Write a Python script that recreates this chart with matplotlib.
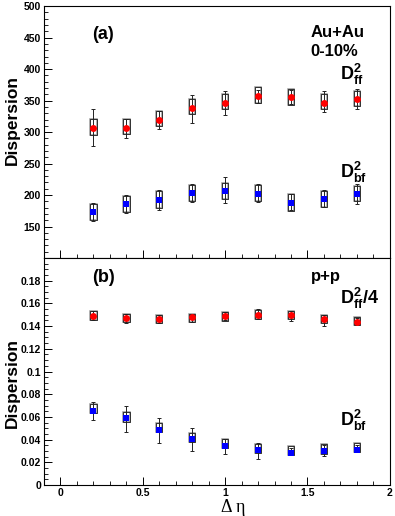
import matplotlib.pyplot as plt
from matplotlib.patches import Rectangle
from matplotlib.ticker import MultipleLocator

plt.rcParams['font.family'] = ['Liberation Sans', 'DejaVu Sans']
plt.rcParams['mathtext.fontset'] = 'custom'
plt.rcParams['mathtext.bf'] = 'Liberation Sans:bold'
plt.rcParams['mathtext.rm'] = 'Liberation Sans'

deta = [0.2, 0.4, 0.6, 0.8, 1.0, 1.2, 1.4, 1.6, 1.8]

# (a) Au+Au 0-10%
auau_ff = [307, 307, 320, 339, 346, 358, 355, 347, 352]
auau_ff_lo = [278, 290, 305, 315, 327, 346, 345, 332, 336]
auau_ff_hi = [337, 321, 334, 359, 365, 367, 367, 366, 368]
auau_ff_box_lo = [296, 297, 309, 329, 336, 346, 343, 336, 342]
auau_ff_box_hi = [321, 321, 333, 353, 360, 372, 369, 361, 366]

auau_bf = [173, 185, 192, 203, 206, 202, 188, 194, 201]
auau_bf_lo = [159, 171, 177, 189, 188, 189, 176, 181, 186]
auau_bf_hi = [188, 200, 208, 217, 228, 218, 202, 208, 218]
auau_bf_box_lo = [161, 173, 179, 190, 194, 190, 174, 181, 191]
auau_bf_box_hi = [186, 199, 206, 216, 219, 216, 201, 207, 215]

# (b) p+p
pp_ff = [0.1486, 0.1474, 0.1459, 0.1477, 0.1486, 0.1500, 0.1500, 0.1465, 0.1436]
pp_ff_lo = [0.1455, 0.1430, 0.1430, 0.1440, 0.1450, 0.1460, 0.1442, 0.1398, 0.1410]
pp_ff_hi = [0.1530, 0.1510, 0.1500, 0.1510, 0.1520, 0.1553, 0.1535, 0.1500, 0.1470]
pp_ff_box_lo = [0.1451, 0.1433, 0.1427, 0.1436, 0.1448, 0.1465, 0.1462, 0.1430, 0.1407]
pp_ff_box_hi = [0.1529, 0.1509, 0.1500, 0.1510, 0.1520, 0.1538, 0.1535, 0.1500, 0.1477]

pp_bf = [0.0655, 0.0588, 0.0483, 0.0402, 0.0347, 0.0306, 0.0286, 0.0300, 0.0312]
pp_bf_lo = [0.0577, 0.0466, 0.0373, 0.0300, 0.0277, 0.0227, 0.0270, 0.0253, 0.0295]
pp_bf_hi = [0.0728, 0.0693, 0.0588, 0.0500, 0.0408, 0.0370, 0.0330, 0.0350, 0.0350]
pp_bf_box_lo = [0.0632, 0.0553, 0.0466, 0.0378, 0.0330, 0.0282, 0.0268, 0.0277, 0.0291]
pp_bf_box_hi = [0.0714, 0.0640, 0.0548, 0.0460, 0.0402, 0.0358, 0.0343, 0.0358, 0.0370]


def draw_series(ax, y, lo, hi, blo, bhi, color, marker, ms):
    half = 0.02
    for xi, b0, b1 in zip(deta, blo, bhi):
        # gray shadow + thin black outline, like the ROOT sys boxes
        ax.add_patch(Rectangle((xi - half, b0), 2 * half, b1 - b0, fill=False,
                               edgecolor='#9a9a9a', lw=1.1, zorder=2))
        ax.add_patch(Rectangle((xi - half, b0), 2 * half, b1 - b0, fill=False,
                               edgecolor='black', lw=0.5, zorder=2))
    yerr = [[v - l for v, l in zip(y, lo)], [h - v for v, h in zip(y, hi)]]
    ax.errorbar(deta, y, yerr=yerr, fmt='none', ecolor='#222222', elinewidth=0.7,
                capsize=1.5, capthick=0.7, zorder=3)
    ax.plot(deta, y, linestyle='none', marker=marker, color=color, ms=ms,
            markeredgewidth=0, zorder=4)


def style_axes(ax):
    ax.tick_params(which='both', direction='in', top=False, right=False,
                   labelsize=7.5, pad=2)
    ax.tick_params(which='major', length=6, width=0.7)
    ax.tick_params(which='minor', length=3, width=0.6)
    for lab in ax.get_yticklabels() + ax.get_xticklabels():
        lab.set_fontweight('bold')
    ax.set_ylabel('Dispersion', fontsize=12.5, fontweight='bold')
    ax.xaxis.set_major_locator(MultipleLocator(0.5))
    ax.xaxis.set_minor_locator(MultipleLocator(0.1))
    ax.set_xlim(-0.1, 2.0)


fig = plt.figure(figsize=(3.95, 5.16), dpi=100)
ax1 = fig.add_axes([0.111, 0.5, 0.876, 0.488])
ax2 = fig.add_axes([0.111, 0.060, 0.876, 0.440])

draw_series(ax1, auau_ff, auau_ff_lo, auau_ff_hi, auau_ff_box_lo, auau_ff_box_hi, 'red', 'o', 5)
draw_series(ax1, auau_bf, auau_bf_lo, auau_bf_hi, auau_bf_box_lo, auau_bf_box_hi, 'blue', 's', 4)
ax1.set_ylim(100, 500)
ax1.yaxis.set_minor_locator(MultipleLocator(10))
ax1.set_yticks(range(150, 501, 50))
style_axes(ax1)
ax1.set_xticklabels([])
ax1.yaxis.set_label_coords(-0.068, 0.55)

ax1.text(0.26, 455, '(a)', fontsize=13, fontweight='bold', ha='center', va='center')
ax1.text(1.52, 458, 'Au+Au', fontsize=12, fontweight='bold', va='center')
ax1.text(1.52, 428, '0-10%', fontsize=12, fontweight='bold', va='center')
ax1.text(1.70, 391, r'$\mathbf{D^{2}_{ff}}$', fontsize=13, va='center')
ax1.text(1.70, 236, r'$\mathbf{D^{2}_{bf}}$', fontsize=13, va='center')

draw_series(ax2, pp_ff, pp_ff_lo, pp_ff_hi, pp_ff_box_lo, pp_ff_box_hi, 'red', 'o', 5)
draw_series(ax2, pp_bf, pp_bf_lo, pp_bf_hi, pp_bf_box_lo, pp_bf_box_hi, 'blue', 's', 4)
ax2.set_ylim(0, 0.2)
ax2.set_yticks([0, 0.02, 0.04, 0.06, 0.08, 0.1, 0.12, 0.14, 0.16, 0.18])
ax2.set_yticklabels(['0', '0.02', '0.04', '0.06', '0.08', '0.1', '0.12', '0.14', '0.16', '0.18'])
ax2.yaxis.set_minor_locator(MultipleLocator(0.005))
style_axes(ax2)
ax2.set_xticks([0, 0.5, 1, 1.5, 2])
ax2.set_xticklabels(['0', '0.5', '1', '1.5', '2'], fontweight='bold')
ax2.yaxis.set_label_coords(-0.068, 0.45)

ax2.text(0.26, 0.183, '(b)', fontsize=13, fontweight='bold', ha='center', va='center')
ax2.text(1.52, 0.1835, 'p+p', fontsize=12, fontweight='bold', va='center')
ax2.text(1.70, 0.164, r'$\mathbf{D^{2}_{ff}/4}$', fontsize=13, va='center')
ax2.text(1.70, 0.057, r'$\mathbf{D^{2}_{bf}}$', fontsize=13, va='center')

fig.text(0.59, 0.0, 'Δ η', fontsize=13,
         family=['Liberation Serif', 'DejaVu Serif'], ha='center', va='bottom')

fig.savefig('out.png', dpi=100)
